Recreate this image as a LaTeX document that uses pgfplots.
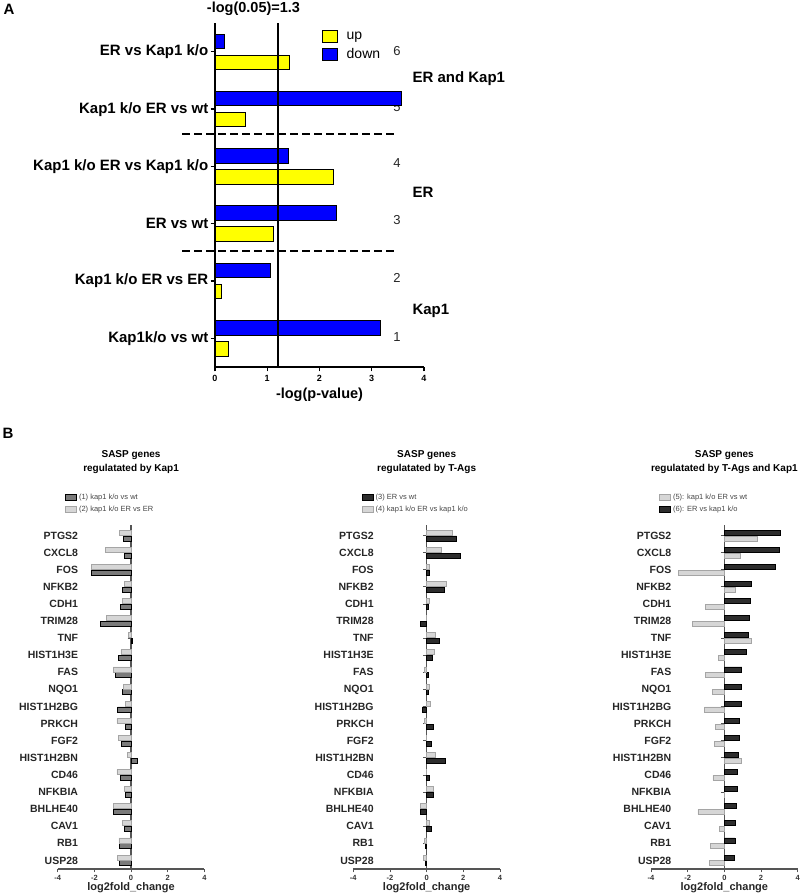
\documentclass[border=0pt]{standalone}
\usepackage{pgfplots}
\usepackage{pgfplotstable}
\pgfplotsset{compat=1.18}
\usepackage{fontspec}
\setmainfont{Liberation Sans}
\definecolor{upY}{RGB}{255,255,0}
\definecolor{dnB}{RGB}{0,0,255}
\definecolor{midG}{RGB}{122,122,122}
\definecolor{darkG}{RGB}{45,45,45}
\definecolor{lightG}{RGB}{214,214,214}
\definecolor{lightE}{RGB}{165,165,165}
\definecolor{axG}{RGB}{85,85,85}
\definecolor{legT}{RGB}{70,70,70}
\newcommand{\fs}[1]{\fontsize{#1}{#1}\selectfont}

\pgfplotstableread{
y up down
1 0.25 3.17
2 0.13 1.07
3 1.12 2.33
4 2.27 1.41
5 0.59 3.56
6 1.435 0.18
}\tabA

% y: 1 = USP28 (bottom) ... 20 = PTGS2 (top)
\pgfplotstableread{
y s1 s2 s3 s4 s5 s6
20 -0.40 -0.62 1.64 1.42 1.82 3.04
19 -0.35 -1.38 1.85 0.82 0.87 3.02
18 -2.17 -2.15 0.15 0.15 -2.50 2.81
17 -0.49 -0.35 0.96 1.09 0.62 1.49
16 -0.56 -0.46 0.07 0.15 -1.02 1.42
15 -1.68 -1.35 -0.33 0.01 -1.73 1.37
14 0.07 -0.16 0.71 0.49 1.46 1.29
13 -0.67 -0.55 0.33 0.42 -0.31 1.18
12 -0.84 -0.98 0.09 -0.13 -1.02 0.95
11 -0.46 -0.40 0.07 0.15 -0.67 0.93
10 -0.73 -0.31 -0.25 0.20 -1.08 0.91
9 -0.29 -0.77 0.38 -0.13 -0.51 0.82
8 -0.51 -0.71 0.24 0.01 -0.55 0.82
7 0.36 -0.20 1.04 0.47 0.95 0.75
6 -0.58 -0.77 0.16 0.01 -0.62 0.73
5 -0.29 -0.35 0.38 0.35 0.01 0.71
4 -0.98 -0.98 -0.35 -0.33 -1.44 0.67
3 -0.35 -0.47 0.25 0.15 -0.26 0.62
2 -0.62 -0.66 -0.07 -0.11 -0.75 0.58
1 -0.62 -0.73 -0.09 -0.18 -0.80 0.56
}\tabB

\pgfplotsset{
  bstyle/.style={
    anchor=south west, scale only axis, width=146.7pt, height=343.7pt,
    xmin=-4, xmax=4, ymin=0.5, ymax=20.6,
    axis x line=bottom, axis y line=center,
    hide obscured x ticks=false, hide obscured y ticks=false,
    axis line style={-, line width=1.1pt, color=axG},
    every inner y axis line/.append style={-},
    every outer x axis line/.append style={-},
    xtick={-4,-2,0,2,4}, ytick={1,...,20},
    yticklabels={USP28,RB1,CAV1,BHLHE40,NFKBIA,CD46,HIST1H2BN,FGF2,PRKCH,HIST1H2BG,NQO1,FAS,HIST1H3E,TNF,TRIM28,CDH1,NFKB2,FOS,CXCL8,PTGS2},
    tick align=outside, major tick length=3.5pt,
    tick style={line width=0.9pt, color=axG},
    minor tick num=0,
    yticklabel style={font=\fs{10.5}\bfseries, text=black!85, anchor=east, xshift=-46pt},
    xticklabel style={font=\fs{7.5}\bfseries, text=black!80, yshift=1pt},
    /pgf/number format/assume math mode=true,
    xlabel={log2fold\_change}, xlabel style={font=\fs{11}\bfseries, text=black!85, yshift=5pt},
    title style={font=\fontsize{10}{14}\selectfont\bfseries, align=center, at={(axis description cs:0.5,1.167)}, anchor=center},
    xbar, bar width=5pt, clip=false,
    legend cell align=left,
    legend style={draw=none, fill=none, inner sep=0pt, row sep=1pt, font=\fs{7.5}, text=legT, at={(0.05,1.097)}, anchor=north west},
    legend image code/.code={\draw[#1] (0pt,-3pt) rectangle (11pt,3.5pt);},
  },
  lightbar/.style={fill=lightG, draw=lightE, line width=0.8pt},
  midbar/.style={fill=midG, draw=black, line width=0.8pt},
  darkbar/.style={fill=darkG, draw=black, line width=0.8pt},
}

\begin{document}
\begin{tikzpicture}[x=1pt,y=1pt]
\useasboundingbox (0,0) rectangle (800,896);

% ---------- Panel A annotations (behind bars) ----------
\node[font=\fs{15}\bfseries, anchor=west] at (0,887) {A};
\node[font=\fs{14.5}\bfseries] at (253.5,887) {-log(0.05)=1.3};
\foreach \n/\yy in {6/50.7,5/106.7,4/163.3,3/220,2/278.3,1/337.3}{
  \node[font=\fs{13}, text=black!85] at (397,896-\yy) {\n};
}
\node[font=\fs{15}\bfseries, anchor=west] at (409,896-79) {ER and Kap1};
\node[font=\fs{15}\bfseries, anchor=west] at (409,896-192) {ER};
\node[font=\fs{15}\bfseries, anchor=west] at (409,896-311) {Kap1};

% ---------- Panel A ----------
\begin{axis}[
  at={(215pt,529pt)}, anchor=south west, scale only axis,
  width=209pt, height=343.8pt,
  xmin=0, xmax=4, ymin=0.5, ymax=6.5,
  axis x line*=bottom, axis y line*=left,
  axis line style={line width=1.6pt, -},
  xtick={0,1,2,3,4}, ytick={1,...,6},
  yticklabels={Kap1k/o vs wt, Kap1 k/o ER vs ER, ER vs wt, Kap1 k/o ER vs Kap1 k/o, Kap1 k/o ER vs wt, ER vs Kap1 k/o},
  tick align=outside, major tick length=4.5pt,
  tick style={line width=1.3pt, black},
  yticklabel style={font=\fs{15}\bfseries, inner sep=2pt},
  xticklabel style={font=\fs{9}\bfseries},
  /pgf/number format/assume math mode=true,
  xlabel={-log(p-value)}, xlabel style={font=\fs{14.5}\bfseries},
  clip=false,
  xbar, bar width=14.5pt,
  legend cell align=left,
  legend style={draw=none, fill=none, inner sep=0pt, row sep=3pt, font=\fs{14}, at={(0.512,0.98)}, anchor=north west},
  legend image code/.code={\draw[#1] (0pt,-6pt) rectangle (15pt,6pt); \path[draw=none,fill=none] (15pt,0pt) -- (22pt,0pt);},
]
\addplot[draw=black, line width=1pt, fill=upY, bar shift=-10.5pt] table[x=up,y=y]{\tabA};
\addlegendentry{up}
\addplot[draw=black, line width=1pt, fill=dnB, bar shift=10.5pt] table[x=down,y=y]{\tabA};
\addlegendentry{down}
\draw[line width=2pt] (axis cs:1.21,0.5) -- (axis cs:1.21,6.5);
\draw[line width=2pt, dash pattern=on 8pt off 4pt] (axis cs:-0.63,2.53) -- (axis cs:3.5,2.53);
\draw[line width=2pt, dash pattern=on 8pt off 4pt] (axis cs:-0.63,4.56) -- (axis cs:3.5,4.56);
\end{axis}

% ---------- Panel B ----------
\node[font=\fs{15}\bfseries, anchor=west] at (-1,896-433) {B};

\begin{axis}[bstyle, at={(57.7pt,27pt)},
  title={SASP genes\\regulatated by Kap1},
  legend style={at={(0.05,1.097)}}]
\addplot[midbar, bar shift=-2.9pt] table[x=s1,y=y]{\tabB};
\addlegendentry{(1) kap1 k/o vs wt}
\addplot[lightbar, bar shift=2.9pt] table[x=s2,y=y]{\tabB};
\addlegendentry{(2) kap1 k/o ER vs ER}
\end{axis}

\begin{axis}[bstyle, at={(353.3pt,27pt)},
  title={SASP genes\\regulatated by T-Ags},
  legend style={at={(0.057,1.097)}}]
\addplot[darkbar, bar shift=-2.9pt] table[x=s3,y=y]{\tabB};
\addlegendentry{(3) ER vs wt}
\addplot[lightbar, bar shift=2.9pt] table[x=s4,y=y]{\tabB};
\addlegendentry{(4) kap1 k/o ER vs kap1 k/o}
\end{axis}

\begin{axis}[bstyle, at={(651pt,27pt)},
  title={SASP genes\\regulatated by T-Ags and Kap1},
  legend style={at={(0.055,1.097)}}]
\addplot[lightbar, bar shift=-2.9pt] table[x=s5,y=y]{\tabB};
\addlegendentry{(5): kap1 k/o ER vs wt}
\addplot[darkbar, bar shift=2.9pt] table[x=s6,y=y]{\tabB};
\addlegendentry{(6): ER vs kap1 k/o}
\end{axis}
\end{tikzpicture}
\end{document}
